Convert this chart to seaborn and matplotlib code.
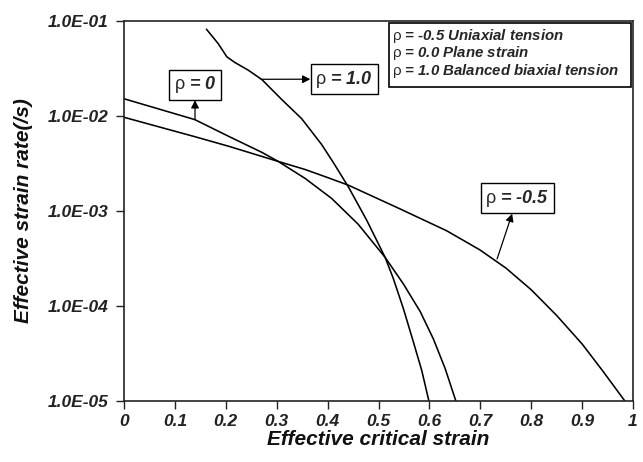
import matplotlib
matplotlib.use("Agg")
import matplotlib.pyplot as plt
import seaborn as sns
import pandas as pd
from matplotlib.patches import Rectangle
from matplotlib.ticker import FixedLocator, FixedFormatter, NullLocator

# ---------------- data ----------------
rho_m05_x = [0.0, 0.139, 0.205, 0.303, 0.356, 0.400, 0.441, 0.542, 0.634,
             0.699, 0.750, 0.800, 0.850, 0.900, 0.940, 0.984]
rho_m05_y = [0.00964, 0.00603, 0.00479, 0.00331, 0.00272, 0.00224, 0.00186,
             0.00105, 0.000617, 0.000389, 0.000251, 0.000148, 7.94e-5,
             3.98e-5, 2.09e-5, 1.0e-5]

rho_0_x = [0.0, 0.139, 0.205, 0.271, 0.303, 0.356, 0.408, 0.460, 0.513,
           0.549, 0.582, 0.608, 0.631, 0.652]
rho_0_y = [0.0151, 0.00912, 0.00610, 0.00412, 0.00331, 0.00219, 0.00135,
           0.000724, 0.000324, 0.000170, 8.71e-5, 4.47e-5, 2.19e-5, 1.0e-5]

rho_1_x = [0.162, 0.185, 0.202, 0.218, 0.244, 0.271, 0.310, 0.349, 0.388,
           0.411, 0.441, 0.477, 0.513, 0.529, 0.549, 0.568, 0.585, 0.599]
rho_1_y = [0.0813, 0.0575, 0.0417, 0.0363, 0.0302, 0.0240, 0.0148, 0.00933,
           0.00501, 0.00324, 0.00178, 0.000794, 0.000324, 0.000195, 9.33e-5,
           4.27e-5, 2.09e-5, 1.0e-5]

x_ticks = [0, 0.1, 0.2, 0.3, 0.4, 0.5, 0.6, 0.7, 0.8, 0.9, 1.0]
x_tick_labels = ["0", "0.1", "0.2", "0.3", "0.4", "0.5", "0.6", "0.7", "0.8", "0.9", "1"]
y_ticks = [1e-5, 1e-4, 1e-3, 1e-2, 1e-1]
y_tick_labels = ["1.0E-05", "1.0E-04", "1.0E-03", "1.0E-02", "1.0E-01"]

legend_lines = ["= -0.5 Uniaxial tension", "= 0.0 Plane strain",
                "= 1.0 Balanced biaxial tension"]
x_label = "Effective critical strain"
y_label = "Effective strain rate(/s)"

# ---------------- style ----------------
sns.set_style("ticks")
plt.rcParams["font.family"] = ["Liberation Sans", "DejaVu Sans"]
plt.rcParams["font.weight"] = "bold"
plt.rcParams["font.style"] = "italic"
plt.rcParams["mathtext.fontset"] = "custom"
plt.rcParams["mathtext.rm"] = "Liberation Sans:style=normal:weight=normal"
plt.rcParams["mathtext.it"] = "Liberation Sans:style=italic:weight=normal"
plt.rcParams["mathtext.bf"] = "Liberation Sans:style=normal:weight=bold"

fig = plt.figure(figsize=(6.43, 4.62), dpi=100)
ax = fig.add_axes([124 / 643, 1 - 401 / 462, 509 / 643, 380.3 / 462])

frames = []
for name, xs, ys in [("-0.5", rho_m05_x, rho_m05_y),
                     ("0", rho_0_x, rho_0_y),
                     ("1.0", rho_1_x, rho_1_y)]:
    frames.append(pd.DataFrame({"strain": xs, "rate": ys, "rho": name}))
df = pd.concat(frames, ignore_index=True)

for name in ["-0.5", "0", "1.0"]:
    sns.lineplot(data=df[df["rho"] == name], x="strain", y="rate",
                 estimator=None, sort=False, color="black", linewidth=1.15,
                 solid_joinstyle="round", ax=ax, legend=False)

ax.set_yscale("log")
ax.set_xlim(0, 1)
ax.set_ylim(1e-5, 1e-1)
ax.xaxis.set_major_locator(FixedLocator(x_ticks))
ax.xaxis.set_major_formatter(FixedFormatter(x_tick_labels))
ax.yaxis.set_major_locator(FixedLocator(y_ticks))
ax.yaxis.set_major_formatter(FixedFormatter(y_tick_labels))
ax.yaxis.set_minor_locator(NullLocator())
ax.xaxis.set_minor_locator(NullLocator())

ax.tick_params(axis="both", direction="out", length=6, width=1.0,
               colors="#222222", labelsize=12.5, pad=5)
ax.tick_params(axis="x", pad=3)
for s in ax.spines.values():
    s.set_linewidth(1.2)
    s.set_color("#222222")

ax.set_xlabel(x_label, fontsize=15, fontweight="bold", fontstyle="italic",
              color="#111111")
ax.set_ylabel(y_label, fontsize=15, fontweight="bold", fontstyle="italic",
              color="#111111")
ax.xaxis.set_label_coords(0.5, -0.075)
ax.yaxis.set_label_coords(-0.178, 0.5)

# ---------------- annotations ----------------
box = dict(boxstyle="square,pad=0.25", fc="white", ec="black", lw=1.0)
arrow = dict(arrowstyle="<|-,head_length=0.35,head_width=0.18", color="black",
             lw=0.9, shrinkA=0, shrinkB=0)
ax.annotate(r"$\mathrm{\rho}$ = 0 ", xy=(0.1395, 0.0091), xytext=(0.1395, 0.0212),
            textcoords="data", ha="center", va="center", fontsize=13,
            bbox=box, arrowprops=arrow)
ax.annotate(r"$\mathrm{\rho}$ = 1.0 ", xy=(0.269, 0.0242), xytext=(0.4326, 0.02427),
            textcoords="data", ha="center", va="center", fontsize=13,
            bbox=box, arrowprops=arrow)
ax.annotate(r"$\mathrm{\rho}$ = -0.5 ", xy=(0.733, 0.000312), xytext=(0.7727, 0.001358),
            textcoords="data", ha="center", va="center", fontsize=13,
            bbox=box, arrowprops=arrow)

# legend-like text box
ax.add_patch(Rectangle((0.521, 0.825), 0.476, 0.168, transform=ax.transAxes,
                       fc="white", ec="black", lw=1.2, zorder=5))
for i, line in enumerate(legend_lines):
    ax.text(0.5265, 0.960 - i * 0.046, r"$\mathrm{\rho}$ " + line,
            transform=ax.transAxes, ha="left", va="center", fontsize=10.8,
            zorder=6)

fig.savefig("out.png", dpi=100)
